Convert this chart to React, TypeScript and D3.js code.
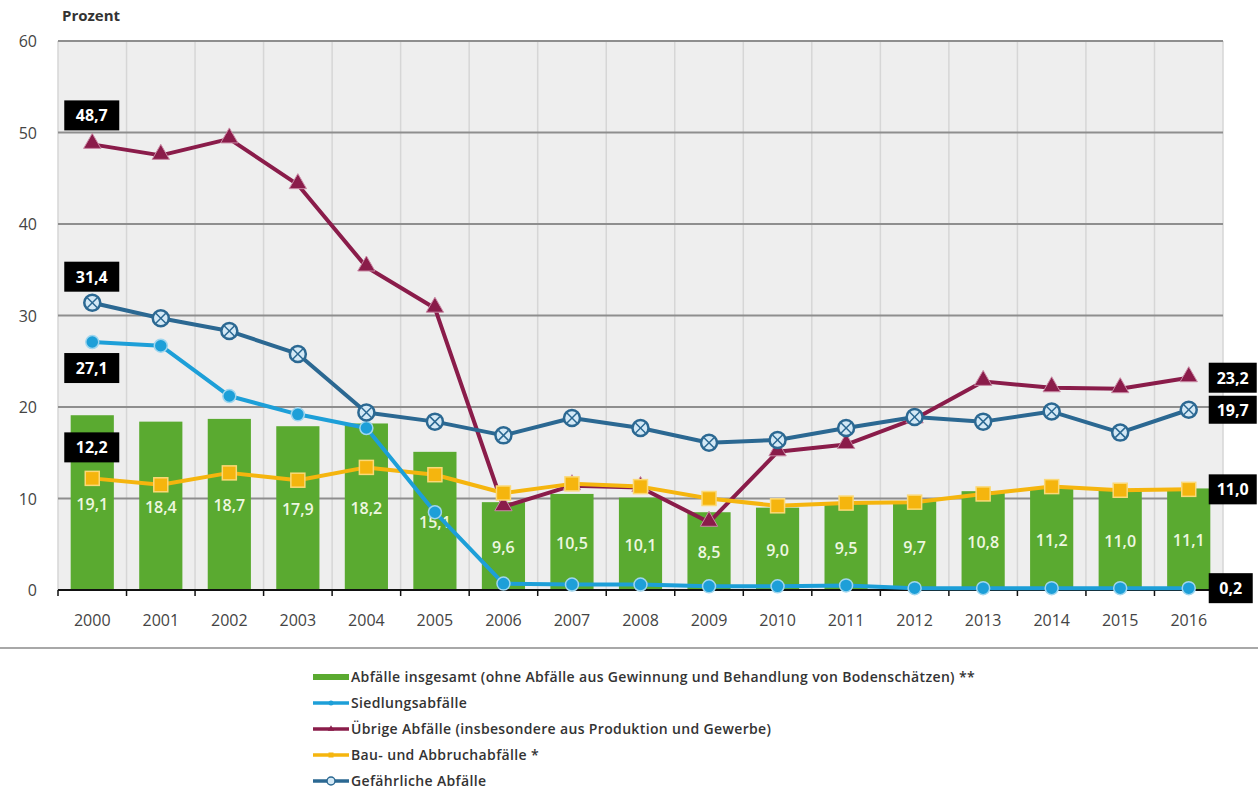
import React from "react";
import * as d3 from "d3";

const years = ["2000","2001","2002","2003","2004","2005","2006","2007","2008","2009","2010","2011","2012","2013","2014","2015","2016"];
const total = [19.1,18.4,18.7,17.9,18.2,15.1,9.6,10.5,10.1,8.5,9.0,9.5,9.7,10.8,11.2,11.0,11.1];
const siedlung = [27.1,26.7,21.2,19.2,17.7,8.5,0.7,0.6,0.6,0.4,0.4,0.5,0.2,0.2,0.2,0.2,0.2];
const uebrige = [48.7,47.5,49.3,44.3,35.3,30.8,9.1,11.4,11.2,7.4,15.1,15.9,18.7,22.8,22.1,22.0,23.2];
const bau = [12.2,11.5,12.8,12.0,13.4,12.6,10.6,11.6,11.3,10.0,9.2,9.5,9.6,10.5,11.3,10.9,11.0];
const gefaehrlich = [31.4,29.7,28.3,25.8,19.4,18.4,16.9,18.8,17.7,16.1,16.4,17.7,18.9,18.4,19.5,17.2,19.7];
const yTicks = [0,10,20,30,40,50,60];
const legendLabels = [
  "Abfälle insgesamt (ohne Abfälle aus Gewinnung und Behandlung von Bodenschätzen) **",
  "Siedlungsabfälle",
  "Übrige Abfälle (insbesondere aus Produktion und Gewerbe)",
  "Bau- und Abbruchabfälle *",
  "Gefährliche Abfälle",
];

const C = {
  green: "#5aaa30",
  sied: "#1d9fd8",
  uebr: "#8a1c4a",
  bau: "#f5b50e",
  gef: "#2b6892",
};

const fmt = (v: number) => v.toFixed(1).replace(".", ",");
const FONT = "'Open Sans', 'DejaVu Sans', sans-serif";

export default function App() {
  const W = 1258, H = 789;
  const left = 58, right = 1223, top = 41, bottom = 590;
  const x = d3.scaleBand().domain(years).range([left, right]).padding(0);
  const bw = x.bandwidth();
  const cx = (i: number) => (x(years[i]) as number) + bw / 2;
  const y = d3.scaleLinear().domain([0, 60]).range([bottom, top]);
  const barW = bw * 0.63;

  const line = (vals: number[]) =>
    d3.line<number>().x((_, i) => cx(i)).y((v) => y(v))(vals) as string;

  const tri = d3.symbol().type(d3.symbolTriangle).size(130)() as string;

  const lastI = years.length - 1;

  const Box = ({ bx, by, w, h, text }: { bx: number; by: number; w: number; h: number; text: string }) => (
    <g>
      <rect x={bx} y={by} width={w} height={h} fill="#000" />
      <text x={bx + w / 2} y={by + h / 2 + 6} textAnchor="middle" fill="#fff" fontSize={16} fontWeight={700} fontFamily={FONT}>{text}</text>
    </g>
  );

  return (
    <svg width={W} height={H} style={{ position: "absolute", left: 0, top: 0, background: "#fff" }}>
      <text x={62} y={21} fontSize={15} fontWeight={700} fill="#333" fontFamily={FONT}>Prozent</text>
      <rect x={left} y={top} width={right - left} height={bottom - top} fill="#eeeeee" />
      {years.map((yr, i) => (
        <line key={"v" + i} x1={x(yr)} x2={x(yr)} y1={top} y2={bottom} stroke="#d6d6d6" strokeWidth={1.5} />
      ))}
      <line x1={right} x2={right} y1={top} y2={bottom} stroke="#d6d6d6" strokeWidth={1.5} />
      {yTicks.filter((t) => t > 0).map((t) => (
        <line key={"h" + t} x1={left} x2={right} y1={y(t)} y2={y(t)} stroke="#8e8e8e" strokeWidth={2} />
      ))}
      {yTicks.map((t) => (
        <text key={"yt" + t} x={37} y={y(t) + 6} textAnchor="end" fontSize={16} fill="#444" fontFamily={FONT}>{t}</text>
      ))}
      {total.map((v, i) => (
        <rect key={"b" + i} x={cx(i) - barW / 2} y={y(v)} width={barW} height={y(0) - y(v)} fill={C.green} />
      ))}
      {total.map((v, i) => (
        <text key={"bl" + i} x={cx(i)} y={y(v / 2) + 7} textAnchor="middle" fontSize={16} fontWeight={600} fill="#eef7e0" fontFamily={FONT}>{fmt(v)}</text>
      ))}
      <line x1={left} x2={right} y1={bottom} y2={bottom} stroke="#111" strokeWidth={2} />
      {years.map((yr, i) => (
        <line key={"tk" + i} x1={x(yr)} x2={x(yr)} y1={bottom} y2={bottom + 6} stroke="#111" strokeWidth={1.5} />
      ))}
      <line x1={right} x2={right} y1={bottom} y2={bottom + 6} stroke="#111" strokeWidth={1.5} />
      {years.map((yr, i) => (
        <text key={"xl" + i} x={cx(i)} y={626} textAnchor="middle" fontSize={16} fill="#444" fontFamily={FONT}>{yr}</text>
      ))}

      {/* Übrige */}
      <path d={line(uebrige)} fill="none" stroke={C.uebr} strokeWidth={4} strokeLinejoin="round" />
      {uebrige.map((v, i) => (
        <path key={"ut" + i} d={tri} transform={`translate(${cx(i)},${y(v) - 1})`} fill={C.uebr} stroke="#c98aa5" strokeWidth={1} />
      ))}
      {/* Bau */}
      <path d={line(bau)} fill="none" stroke={C.bau} strokeWidth={4} strokeLinejoin="round" />
      {bau.map((v, i) => (
        <rect key={"bs" + i} x={cx(i) - 7} y={y(v) - 7} width={14} height={14} fill={C.bau} stroke="#fbd977" strokeWidth={1.5} />
      ))}
      {/* Siedlung */}
      <path d={line(siedlung)} fill="none" stroke={C.sied} strokeWidth={4} strokeLinejoin="round" />
      {siedlung.map((v, i) => (
        <circle key={"sc" + i} cx={cx(i)} cy={y(v)} r={6.5} fill={C.sied} stroke="#9fd6ef" strokeWidth={1.5} />
      ))}
      {/* Gefährliche */}
      <path d={line(gefaehrlich)} fill="none" stroke={C.gef} strokeWidth={4} strokeLinejoin="round" />
      {gefaehrlich.map((v, i) => (
        <g key={"gc" + i} transform={`translate(${cx(i)},${y(v)})`}>
          <circle r={8} fill="#d4e9f6" stroke={C.gef} strokeWidth={2.5} />
          <line x1={-5} y1={-5} x2={5} y2={5} stroke={C.gef} strokeWidth={1.5} />
          <line x1={-5} y1={5} x2={5} y2={-5} stroke={C.gef} strokeWidth={1.5} />
        </g>
      ))}

      {/* start labels */}
      <Box bx={cx(0) - 28} by={y(uebrige[0]) - 44} w={55} h={30} text={fmt(uebrige[0])} />
      <Box bx={cx(0) - 28} by={y(gefaehrlich[0]) - 41} w={55} h={30} text={fmt(gefaehrlich[0])} />
      <Box bx={cx(0) - 28} by={y(siedlung[0]) + 11} w={55} h={30} text={fmt(siedlung[0])} />
      <Box bx={cx(0) - 28} by={y(bau[0]) - 46} w={55} h={30} text={fmt(bau[0])} />
      {/* end labels */}
      <Box bx={cx(lastI) + 20} by={y(uebrige[lastI]) - 15} w={48} h={30} text={fmt(uebrige[lastI])} />
      <Box bx={cx(lastI) + 20} by={y(gefaehrlich[lastI]) - 14} w={48} h={28} text={fmt(gefaehrlich[lastI])} />
      <Box bx={cx(lastI) + 20} by={y(bau[lastI]) - 15} w={48} h={30} text={fmt(bau[lastI])} />
      <Box bx={cx(lastI) + 20} by={y(siedlung[lastI]) - 15} w={44} h={30} text={fmt(siedlung[lastI])} />

      <line x1={0} x2={W} y1={648} y2={648} stroke="#a8a8a8" strokeWidth={2} />

      {/* legend */}
      {legendLabels.map((lab, i) => {
        const ly = 677 + i * 26;
        const sx = 313, ex = 349;
        const col = [C.green, C.sied, C.uebr, C.bau, C.gef][i];
        return (
          <g key={"lg" + i}>
            <line x1={sx} x2={ex} y1={ly} y2={ly} stroke={col} strokeWidth={i === 0 ? 6 : 3.5} />
            {i === 1 && <circle cx={(sx + ex) / 2} cy={ly} r={2.5} fill={col} />}
            {i === 2 && <path d={d3.symbol().type(d3.symbolTriangle).size(18)() as string} transform={`translate(${(sx + ex) / 2},${ly})`} fill={col} />}
            {i === 3 && <rect x={(sx + ex) / 2 - 2.5} y={ly - 2.5} width={5} height={5} fill={col} />}
            {i === 4 && <circle cx={(sx + ex) / 2} cy={ly} r={4} fill="#d4e9f6" stroke={col} strokeWidth={1.5} />}
            <text x={351} y={ly + 5} fontSize={14} letterSpacing={0.35} fontWeight={600} fill="#333" fontFamily={FONT}>{lab}</text>
          </g>
        );
      })}
    </svg>
  );
}
